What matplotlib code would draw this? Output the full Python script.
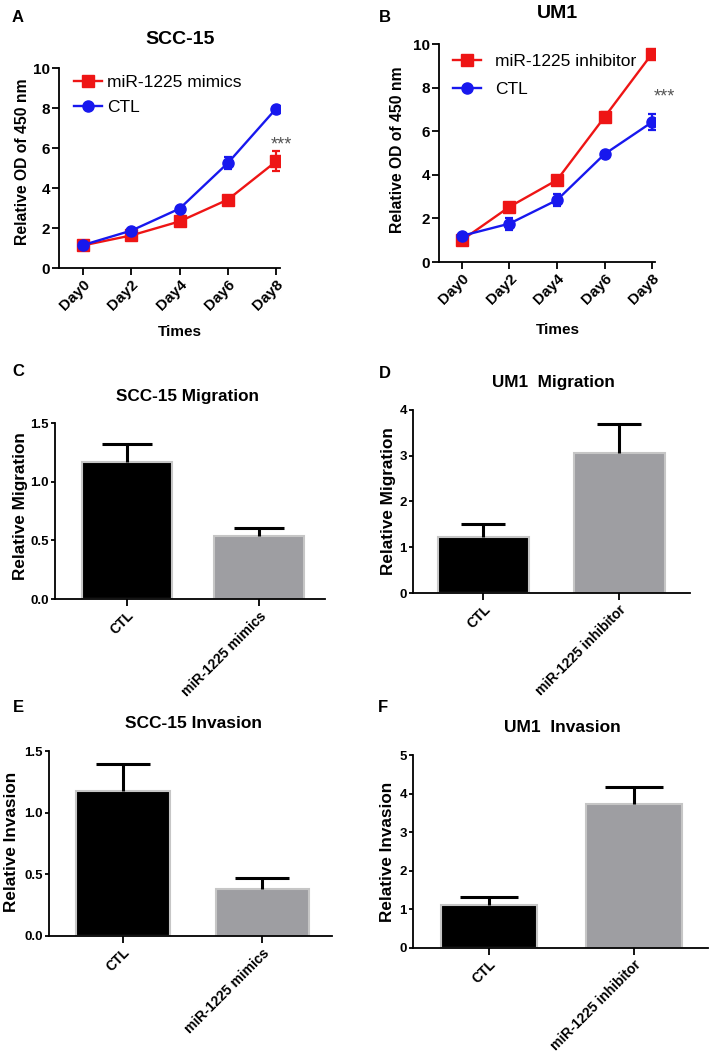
import numpy as np
import matplotlib.pyplot as plt

plt.rcParams['font.family'] = ['Liberation Sans', 'DejaVu Sans']

# growth curves (CCK-8)
days = ['Day0', 'Day2', 'Day4', 'Day6', 'Day8']

scc_mimics = [1.13, 1.63, 2.33, 3.42, 5.33]
scc_mimics_err = [0.08, 0.08, 0.18, 0.15, 0.5]
scc_ctl = [1.15, 1.87, 2.97, 5.25, 7.97]
scc_ctl_err = [0.08, 0.08, 0.1, 0.3, 0.08]

um1_inhib = [1.0, 2.53, 3.76, 6.65, 9.56]
um1_inhib_err = [0.08, 0.12, 0.1, 0.25, 0.15]
um1_ctl = [1.2, 1.76, 2.84, 4.95, 6.42]
um1_ctl_err = [0.08, 0.28, 0.28, 0.08, 0.38]

# transwell assays
groups_mimics = ['CTL', 'miR-1225 mimics']
groups_inhib = ['CTL', 'miR-1225 inhibitor']
scc_mig = [1.165, 0.534]
scc_mig_err = [0.155, 0.07]
um1_mig = [1.23, 3.07]
um1_mig_err = [0.27, 0.62]
scc_inv = [1.176, 0.378]
scc_inv_err = [0.22, 0.09]
um1_inv = [1.12, 3.73]
um1_inv_err = [0.2, 0.43]

W, H = 709, 1056
fig = plt.figure(figsize=(W / 100, H / 100), dpi=100)
RED = '#ee1515'
BLUE = '#1818ee'


def px_axes(l, t, r, b):
    return fig.add_axes([l / W, 1 - b / H, (r - l) / W, (b - t) / H])


def px_text(x, y, s, **kw):
    fig.text(x / W, 1 - y / H, s, **kw)


def style(ax, ylen=5):
    for s in ['top', 'right']:
        ax.spines[s].set_visible(False)
    for s in ['left', 'bottom']:
        ax.spines[s].set_linewidth(1.3)
    ax.tick_params(width=1.3, length=5, direction='out', pad=2)
    ax.tick_params(axis='y', length=ylen, pad=1.5)


def growth(ax, red, red_err, blue, blue_err, red_label, xlim, leg_xy, leg_space, leg_pad):
    xs = np.arange(len(days))
    ax.errorbar(xs, red, yerr=red_err, fmt='none', ecolor=RED, elinewidth=1.6, capsize=3, capthick=1.6, zorder=3)
    l1, = ax.plot(xs, red, color=RED, marker='s', ms=8, lw=1.7, zorder=3, label=red_label)
    ax.errorbar(xs, blue, yerr=blue_err, fmt='none', ecolor=BLUE, elinewidth=1.6, capsize=3, capthick=1.6, zorder=4)
    l2, = ax.plot(xs, blue, color=BLUE, marker='o', ms=8, lw=1.7, zorder=4, label='CTL')
    ax.set_xlim(*xlim)
    ax.set_ylim(0, 10)
    ax.set_yticks([0, 2, 4, 6, 8, 10])
    ax.set_yticklabels(['0', '2', '4', '6', '8', '10'], fontsize=11, fontweight='bold')
    ax.set_xticks(xs)
    ax.set_xticklabels(days, rotation=45, ha='right', rotation_mode='anchor',
                       fontsize=11, fontweight='bold')
    style(ax)
    ax.legend(handles=[l1, l2], loc='upper left', frameon=False, fontsize=12.5,
              bbox_to_anchor=(leg_xy[0] / W, 1 - leg_xy[1] / H), bbox_transform=fig.transFigure,
              borderpad=0, borderaxespad=0, handlelength=1.6, handletextpad=leg_pad,
              labelspacing=leg_space)


def bars(ax, labels, vals, errs, ymax, ticks, xlim, width, cap):
    xs = np.arange(len(labels))
    ax.bar(xs, vals, width=width, color=['black', '#9e9ea2'], edgecolor='#c6c6c6',
           linewidth=1.5, zorder=2)
    eb = ax.errorbar(xs, vals, yerr=[[0] * len(errs), errs], fmt='none', ecolor='black',
                     elinewidth=2.2, capsize=cap, capthick=2.2, zorder=3)
    # only the upper cap is shown
    for cl in eb[1]:
        if np.allclose(cl.get_ydata(), vals):
            cl.set_visible(False)
    ax.set_xlim(*xlim)
    ax.set_ylim(0, ymax)
    ax.set_yticks(ticks)
    ax.set_yticklabels(ticks, fontsize=9.5, fontweight='bold')
    ax.set_xticks(xs)
    ax.set_xticklabels(labels, rotation=45, ha='right', rotation_mode='anchor',
                       fontsize=10, fontweight='bold')
    style(ax, ylen=3)


# A
axA = px_axes(59, 68, 280, 268)
growth(axA, scc_mimics, scc_mimics_err, scc_ctl, scc_ctl_err, 'miR-1225 mimics',
       (-0.5, 4.08), (74, 75), 0.55, 0.3)
px_text(281, 149, '***', fontsize=13, color='#555555', ha='center', va='baseline')
px_text(180, 39, 'SCC-15', fontsize=14, fontweight='bold', ha='center', va='center')
px_text(23, 162, 'Relative OD of 450 nm', fontsize=11.3, fontweight='bold', rotation=90, ha='center', va='center')
px_text(180, 332, 'Times', fontsize=11, fontweight='bold', ha='center', va='center')
px_text(18, 17, 'A', fontsize=12, fontweight='bold', ha='center', va='center')

# B
axB = px_axes(439, 44, 655, 262)
growth(axB, um1_inhib, um1_inhib_err, um1_ctl, um1_ctl_err, 'miR-1225 inhibitor',
       (-0.48, 4.06), (453, 54), 0.75, 0.8)
px_text(664, 101, '***', fontsize=13, color='#555555', ha='center', va='baseline')
px_text(557, 14, 'UM1', fontsize=14, fontweight='bold', ha='center', va='center')
px_text(397, 150, 'Relative OD of 450 nm', fontsize=11.3, fontweight='bold', rotation=90, ha='center', va='center')
px_text(558, 330, 'Times', fontsize=11, fontweight='bold', ha='center', va='center')
px_text(385, 17, 'B', fontsize=12, fontweight='bold', ha='center', va='center')

# C
axC = px_axes(55, 423, 325, 599)
bars(axC, groups_mimics, scc_mig, scc_mig_err, 1.5, [0.0, 0.5, 1.0, 1.5], (-0.545, 1.5), 0.68, 18)
px_text(188, 397, 'SCC-15 Migration', fontsize=12.3, fontweight='bold', ha='center', va='center')
px_text(21, 506, 'Relative Migration', fontsize=12.3, fontweight='bold', rotation=90, ha='center', va='center')
px_text(18, 372, 'C', fontsize=12, fontweight='bold', ha='center', va='center')

# D
axD = px_axes(413, 410, 690, 593)
bars(axD, groups_inhib, um1_mig, um1_mig_err, 4, [0, 1, 2, 3, 4], (-0.515, 1.52), 0.67, 15.5)
px_text(553, 383, 'UM1  Migration', fontsize=12.3, fontweight='bold', ha='center', va='center')
px_text(388, 501, 'Relative Migration', fontsize=12.3, fontweight='bold', rotation=90, ha='center', va='center')
px_text(385, 373, 'D', fontsize=12, fontweight='bold', ha='center', va='center')

# E
axE = px_axes(49, 751, 332, 936)
bars(axE, groups_mimics, scc_inv, scc_inv_err, 1.5, [0.0, 0.5, 1.0, 1.5], (-0.53, 1.5), 0.67, 19.5)
px_text(193, 723, 'SCC-15 Invasion', fontsize=12.5, fontweight='bold', ha='center', va='center')
px_text(12, 842, 'Relative Invasion', fontsize=12.3, fontweight='bold', rotation=90, ha='center', va='center')
px_text(18, 707, 'E', fontsize=12, fontweight='bold', ha='center', va='center')

# F
axF = px_axes(413, 755, 708, 948)
bars(axF, groups_inhib, um1_inv, um1_inv_err, 5, [0, 1, 2, 3, 4, 5], (-0.52, 1.51), 0.66, 21)
px_text(562, 727, 'UM1  Invasion', fontsize=12.5, fontweight='bold', ha='center', va='center')
px_text(387, 852, 'Relative Invasion', fontsize=12.3, fontweight='bold', rotation=90, ha='center', va='center')
px_text(383, 707, 'F', fontsize=12, fontweight='bold', ha='center', va='center')

fig.savefig('out.png', dpi=100)
